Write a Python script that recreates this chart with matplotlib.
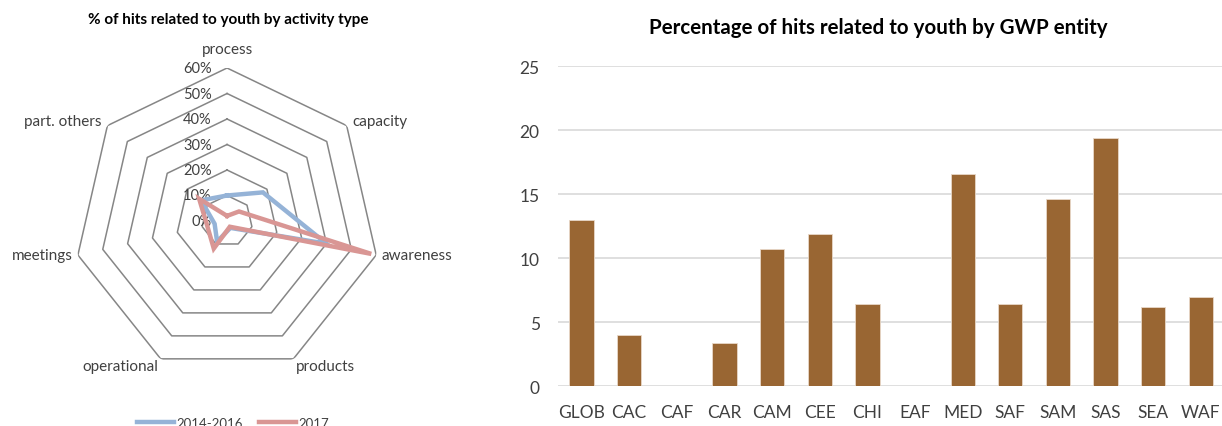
import numpy as np
import matplotlib.pyplot as plt
from matplotlib.lines import Line2D

plt.rcParams['font.family'] = ['Lato', 'DejaVu Sans']

# radar data (share of hits, %)
activities = ["process", "capacity", "awareness", "products",
              "operational", "meetings", "part. others"]
hits_2014_2016 = [10, 18, 40, 3, 9, 5, 13]
hits_2017 = [2, 6, 58, 2.5, 12, 8, 14]
radial_ticks = [0, 10, 20, 30, 40, 50, 60]

# bar data
entities = ["GLOB", "CAC", "CAF", "CAR", "CAM", "CEE", "CHI",
            "EAF", "MED", "SAF", "SAM", "SAS", "SEA", "WAF"]
youth_pct = [13.0, 4.0, 0, 3.4, 10.7, 11.9, 6.4,
             0, 16.6, 6.4, 14.6, 19.4, 6.2, 7.0]

BLUE = "#95b3d7"
RED = "#d99694"
BROWN = "#996633"
TXT = "#404040"

fig = plt.figure(figsize=(12.22, 4.27), dpi=100)

# ---- radar chart ----
ax = fig.add_axes([0.0606, 0.1218, 0.2504, 0.7166], projection="polar")
ax.set_theta_offset(np.pi / 2)
ax.set_theta_direction(-1)
n = len(activities)
ang = np.linspace(0, 2 * np.pi, n, endpoint=False)
ang_closed = np.append(ang, ang[0])

ax.set_ylim(0, 60)
ax.grid(False)
ax.spines['polar'].set_visible(False)
ax.set_xticks([])
ax.set_yticks([])
ax.patch.set_visible(False)

for r in radial_ticks[1:]:
    ax.plot(ang_closed, [r] * (n + 1), color="#868686", lw=1.1, zorder=1)
for r in radial_ticks:
    ax.annotate(f"{r}%", xy=(0, r), xytext=(-11, 0), textcoords="offset points",
                ha="right", va="center", fontsize=10.5, color=TXT)

for vals, col in [(hits_2014_2016, BLUE), (hits_2017, RED)]:
    ax.plot(ang_closed, vals + vals[:1], color=col, lw=3.2, zorder=3,
            solid_joinstyle="miter")

# category labels around the outer ring
lab_pos = {
    "process": ((0, 9), "center", "bottom"),
    "capacity": ((4, 3), "left", "center"),
    "awareness": ((4, 0), "left", "center"),
    "products": ((2, 0), "left", "top"),
    "operational": ((-2, 0), "right", "top"),
    "meetings": ((-4, 0), "right", "center"),
    "part. others": ((-4, 3), "right", "center"),
}
for a, name in zip(ang, activities):
    off, ha, va = lab_pos[name]
    ax.annotate(name, xy=(a, 60), xytext=off, textcoords="offset points",
                ha=ha, va=va, fontsize=11, color=TXT)

fig.text(228 / 1222, 1 - 20 / 427, "% of hits related to youth by activity type",
         ha="center", va="center", fontsize=11, fontweight="bold", color="black")

handles = [Line2D([], [], color=BLUE, lw=3.2), Line2D([], [], color=RED, lw=3.2)]
fig.legend(handles, ["2014-2016", "2017"], loc="center",
           bbox_to_anchor=(233 / 1222, 1 - 424 / 427), ncol=2, frameon=False,
           fontsize=9.5, handlelength=2.8, handletextpad=0.2, columnspacing=1.2,
           labelcolor=TXT)

# ---- bar chart ----
bx = fig.add_axes([557.7 / 1222, 1 - 387.3 / 427, 667 / 1222, 320 / 427])
x = np.arange(len(entities))
bx.bar(x, youth_pct, width=0.51, color=BROWN, edgecolor="#e8d8c8", linewidth=0.6,
       zorder=3)
bx.set_xlim(-0.5, len(entities) - 0.5)
bx.set_ylim(0, 25)
bx.set_yticks([0, 5, 10, 15, 20, 25])
bx.set_xticks(x)
bx.set_xticklabels(entities)
bx.yaxis.grid(True, color="#d9d9d9", lw=1.2, zorder=0)
for sp in bx.spines.values():
    sp.set_visible(False)
bx.tick_params(length=0, labelsize=12.5, colors=TXT)
bx.tick_params(axis="y", pad=13)
bx.tick_params(axis="x", pad=13)
bx.set_title("Percentage of hits related to youth by GWP entity",
             fontsize=14.8, fontweight="bold", pad=0,
             x=(878 - 557.7) / 667, y=(387.3 - 34) / 320)

fig.savefig("out.png", dpi=100)
